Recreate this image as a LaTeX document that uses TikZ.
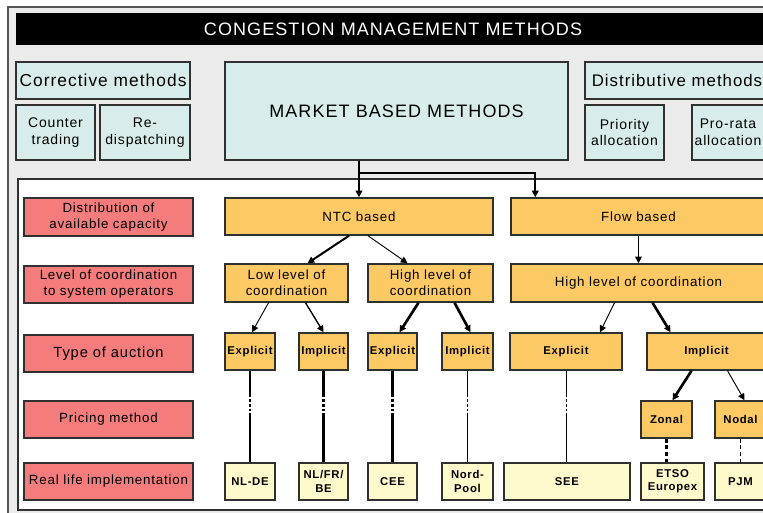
\documentclass[tikz,border=0pt]{standalone}
\usepackage{fontspec}
\setmainfont{Liberation Sans}[LetterSpace=6]
\usetikzlibrary{arrows.meta, positioning, calc}

\definecolor{panelgrey}{HTML}{EBEBEB}
\definecolor{framegrey}{HTML}{555555}
\definecolor{boxline}{HTML}{303030}
\definecolor{topcyan}{HTML}{D8ECEC}
\definecolor{rowred}{HTML}{F47C7C}
\definecolor{nodeorange}{HTML}{FDC964}
\definecolor{leafyellow}{HTML}{FFFACC}

\begin{document}
\begin{tikzpicture}[x=0.75pt, y=-0.75pt,
    % Define node styles (cell = width x height in px)
    cell/.style 2 args={minimum width=#1*0.75pt, minimum height=#2*0.75pt},
    box/.style={rectangle, draw=boxline, line width=1.1pt, inner sep=0pt, align=center},
    topbox/.style={box, fill=topcyan, font=\fontsize{10.5}{12.5}\selectfont},
    rowbox/.style={box, fill=rowred, font=\fontsize{10}{12}\selectfont},
    obox/.style={box, fill=nodeorange, font=\fontsize{10}{12}\selectfont},
    sbox/.style={box, fill=nodeorange, font=\fontsize{8.5}{10}\selectfont\bfseries},
    leaf/.style={box, fill=leafyellow, font=\fontsize{8.5}{10}\selectfont\bfseries},
    % Define connector styles
    link/.style={-{Triangle[length=5pt, width=5pt]}, line width=0.7pt},
    boldlink/.style={link, line width=2pt},
    gapline/.style={dash pattern=on 20pt off 1.5pt on 2pt off 1.5pt on 2pt off 1.5pt on 2pt off 1.5pt on 40pt}
]
    \clip (0,0) rectangle (763,513);
    \fill[white] (0,0) rectangle (763,513);

    % Frame, title bar and lower panel
    \draw[fill=panelgrey, draw=framegrey, line width=0.8pt] (8,7) rectangle (790,530);
    \fill[black] (16,13) rectangle (790,45);
    \node[text=white, font=\fontsize{13.5}{16}\selectfont] (title) at (393,29) {CONGESTION MANAGEMENT METHODS};
    \draw[fill=white, draw=boxline, line width=1.2pt] (18,179) rectangle (790,510);

    % Method families
    \node[topbox, cell={174}{37}, font=\fontsize{13}{15}\selectfont] (corrective) at (103,80.5) {Corrective methods};
    \node[topbox, cell={79}{55}] (counter) at (55.5,132.5) {Counter\\trading};
    \node[topbox, cell={90}{55}] (redispatch) at (145,132.5) {Re-\\dispatching};
    \node[topbox, cell={343}{98}, font=\fontsize{13.5}{16}\selectfont] (market) at (396.5,111) {MARKET BASED METHODS};
    \node[topbox, cell={184}{37}, font=\fontsize{12.6}{15}\selectfont] (distributive) at (677,80.5) {Distributive methods};
    \node[topbox, cell={79}{55}] (priority) at (624.5,132.5) {Priority\\allocation};
    \node[topbox, cell={72}{55}] (prorata) at (728,132.5) {Pro-rata\\allocation};

    % Row labels
    \node[rowbox, cell={169}{38}] (rowdist) at (108.5,217) {Distribution of\\available capacity};
    \node[rowbox, cell={169}{37}] (rowcoord) at (108.5,284.5) {Level of coordination\\to system operators};
    \node[rowbox, cell={169}{37}, font=\fontsize{11}{13}\selectfont] (rowauction) at (108.5,353.5) {Type of auction};
    \node[rowbox, cell={169}{37}] (rowpricing) at (108.5,419.5) {Pricing method};
    \node[rowbox, cell={169}{37}] (rowreal) at (108.5,481.5) {Real life implementation};

    % Capacity and coordination
    \node[obox, cell={268}{37}] (ntc) at (359,216.5) {NTC based};
    \node[obox, cell={255}{37}] (flow) at (638.5,216.5) {Flow based};
    \node[obox, cell={123}{38}] (lowco) at (286.5,283) {Low level of\\coordination};
    \node[obox, cell={125}{38}] (highco) at (430.5,283) {High level of\\coordination};
    \node[obox, cell={255}{38}] (flowhigh) at (638.5,283) {High level of coordination};

    % Auctions and pricing
    \node[sbox, cell={50}{37}] (expA) at (250,351.5) {Explicit};
    \node[sbox, cell={49}{37}] (impA) at (323.5,351.5) {Implicit};
    \node[sbox, cell={49}{37}] (expB) at (392.5,351.5) {Explicit};
    \node[sbox, cell={51}{37}] (impB) at (467.5,351.5) {Implicit};
    \node[sbox, cell={112}{37}] (flowexp) at (566,351.5) {Explicit};
    \node[sbox, cell={119}{37}] (flowimp) at (706.5,351.5) {Implicit};
    \node[sbox, cell={51}{37}] (zonal) at (666.5,419.5) {Zonal};
    \node[sbox, cell={51}{37}] (nodal) at (740.5,419.5) {Nodal};

    % Implementations
    \node[leaf, cell={50}{37}] (nlde) at (250,481.5) {NL-DE};
    \node[leaf, cell={49}{37}] (nlfrbe) at (323.5,481.5) {NL/FR/\\BE};
    \node[leaf, cell={49}{37}] (cee) at (392.5,481.5) {CEE};
    \node[leaf, cell={51}{37}] (nordpool) at (467.5,481.5) {Nord-\\Pool};
    \node[leaf, cell={126}{37}] (see) at (567,481.5) {SEE};
    \node[leaf, cell={63}{37}] (etso) at (672.5,481.5) {ETSO\\Europex};
    \node[leaf, cell={51}{37}] (pjm) at (740.5,481.5) {PJM};

    % Market based methods split into NTC and flow based
    \draw[boldlink] (market.south -| ntc.north) -- (ntc.north);
    \coordinate (split) at (ntc.north |- 0,173);
    \draw[link, line width=1.2pt] (split) -| ($(flow.north west)+(25,0)$);
    \draw[link, line width=1.2pt] (flow.south) -- (flowhigh.north);

    % Tree below NTC based
    \draw[link, line width=1.5pt] ($(ntc.south)+(-10,0)$) -- ($(lowco.north)+(21,0)$);
    \draw[link] ($(ntc.south)+(9,0)$) -- ($(highco.north)+(-23,0)$);
    \draw[link] ($(lowco.south)+(-18,0)$) -- ($(expA.north)+(2,0)$);
    \draw[link, line width=1pt] ($(lowco.south)+(19,0)$) -- (impA.north);
    \draw[boldlink] ($(highco.south)+(-12,0)$) -- ($(expB.north)+(7,0)$);
    \draw[boldlink] ($(highco.south)+(24,0)$) -- ($(impB.north)+(3,0)$);

    % Tree below flow based
    \draw[link] ($(flowhigh.south)+(-24,0)$) -- ($(flowexp.north)+(34,0)$);
    \draw[boldlink] ($(flowhigh.south)+(14,0)$) -- ($(flowimp.north)+(-36,0)$);
    \draw[boldlink] ($(flowimp.south)+(-15,0)$) -- ($(zonal.north)+(6,0)$);
    \draw[link] ($(flowimp.south)+(21,0)$) -- ($(nodal.north)+(4,0)$);

    % Down to the implementations
    \draw[gapline, line width=2pt] (expA.south) -- (nlde.north);
    \draw[gapline, line width=2pt] (impA.south) -- (nlfrbe.north);
    \draw[gapline, line width=2pt] (expB.south) -- (cee.north);
    \draw[gapline, line width=0.7pt] (impB.south) -- (nordpool.north);
    \draw[gapline, line width=0.7pt] (flowexp.south) -- (flowexp.south |- see.north);
    \draw[densely dashed, line width=2pt] (zonal.south) -- (zonal.south |- etso.north);
    \draw[densely dashed, line width=0.7pt] (nodal.south) -- (nodal.south |- pjm.north);
\end{tikzpicture}
\end{document}
